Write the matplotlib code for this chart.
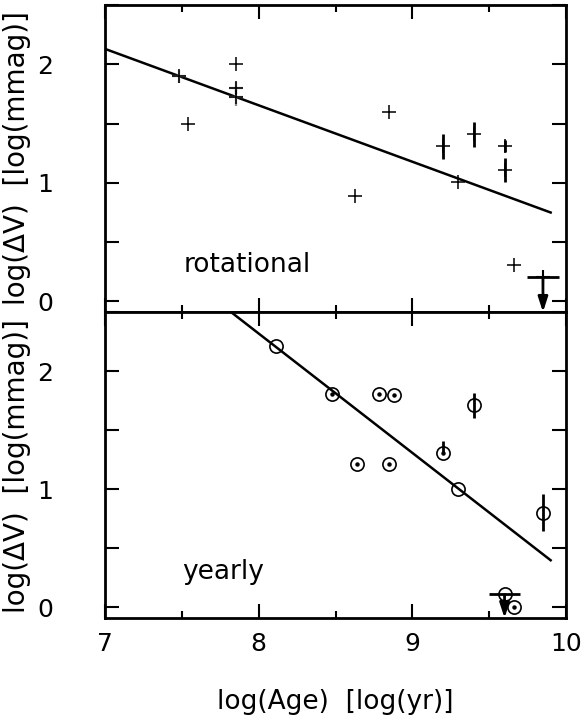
import numpy as np
import matplotlib
matplotlib.use("Agg")
import matplotlib.pyplot as plt
from matplotlib.ticker import MultipleLocator, FuncFormatter

# ---------------- data ----------------
# rotational panel: plain '+' points
rot_x = [7.48, 7.54, 7.85, 7.85, 7.85, 8.85, 8.63, 9.30, 9.66]
rot_y = [1.90, 1.50, 2.00, 1.80, 1.72, 1.60, 0.89, 1.01, 0.305]
# rotational points with vertical error bars
rot_ex = [9.20, 9.40, 9.60, 9.60]
rot_ey = [1.31, 1.41, 1.31, 1.11]
rot_eerr = [0.105, 0.105, 0.05, 0.10]
# rotational grey error crosses
rot_gx = [7.48, 7.85, 7.85]
rot_gy = [1.90, 1.80, 1.72]
rot_gxerr = [0.045, 0.045, 0.045]
rot_gyerr = [0.055, 0.05, 0.07]
# rotational upper limit
rot_ul_x = [9.85]
rot_ul_y = [0.206]
rot_ul_xerr = [0.106]
# rotational fit
rot_fit_slope, rot_fit_icpt = -0.476, 5.462
rot_fit_range = [7.0, 9.9]

# yearly panel
yr_open_x = [8.11, 9.30]
yr_open_y = [2.21, 1.00]
yr_dot_x = [8.48, 8.78, 8.88, 8.64, 8.85, 9.66]
yr_dot_y = [1.805, 1.805, 1.80, 1.21, 1.21, 0.00]
# open circles with error bars
yr_err_x = [9.40, 9.85]
yr_err_y = [1.71, 0.80]
yr_err_e = [0.107, 0.157]
# dotted circle with upper-only error bar
yr_up_x = [9.20]
yr_up_y = [1.305]
yr_up_e = [0.10]
# yearly upper limit
yr_ul_x = [9.60]
yr_ul_y = [0.11]
yr_ul_xerr = [0.10]
# yearly fit
yr_fit_slope, yr_fit_icpt = -1.01, 10.398
yr_fit_range = [7.0, 9.9]

xlim = (7.0, 10.0)
ylim = (-0.09, 2.5)

# ---------------- figure ----------------
fig = plt.figure(figsize=(5.84, 7.27), dpi=100)
ax1 = fig.add_axes([0.1798, 0.5708, 0.7894, 0.4223])
ax2 = fig.add_axes([0.1798, 0.1499, 0.7894, 0.4209])

TICKFS = 18
LABFS = 19

def style(ax, show_xlabels):
    ax.set_xlim(*xlim)
    ax.set_ylim(*ylim)
    ax.xaxis.set_major_locator(MultipleLocator(1))
    ax.xaxis.set_minor_locator(MultipleLocator(0.5))
    ax.yaxis.set_major_locator(MultipleLocator(0.5))
    ax.yaxis.set_major_formatter(FuncFormatter(
        lambda v, p: f"{int(round(v))}" if abs(v - round(v)) < 1e-6 else ""))
    ax.xaxis.set_major_formatter(FuncFormatter(lambda v, p: f"{int(round(v))}"))
    ax.tick_params(which="both", direction="in", top=True, right=True, width=1.5)
    ax.tick_params(which="major", length=10)
    ax.tick_params(which="minor", length=5)
    ax.tick_params(axis="y", labelsize=TICKFS, pad=37)
    ax.tick_params(axis="x", labelsize=TICKFS, pad=10, labelbottom=show_xlabels)
    for s in ax.spines.values():
        s.set_linewidth(2.0)

style(ax1, False)
style(ax2, True)

ARROW = dict(arrowstyle="-|>,head_width=0.18,head_length=0.55", color="k", lw=2.0,
             mutation_scale=16, shrinkA=0, shrinkB=0)

# --- top panel ---
xx = np.array(rot_fit_range)
ax1.plot(xx, rot_fit_icpt + rot_fit_slope * xx, color="k", lw=1.8, zorder=2)
ax1.errorbar(rot_gx, rot_gy, xerr=rot_gxerr, yerr=rot_gyerr, fmt="none",
             ecolor="0.55", elinewidth=1.6, capsize=0, zorder=3)
ax1.plot(rot_x, rot_y, ls="none", marker="+", ms=10, mew=1.1, color="k", zorder=4)
ax1.errorbar(rot_ex, rot_ey, yerr=rot_eerr, fmt="+", ms=10, mew=1.1, color="k",
             ecolor="k", elinewidth=2.0, capsize=0, zorder=4)
ax1.errorbar(rot_ul_x, rot_ul_y, xerr=rot_ul_xerr, fmt="+", ms=10, mew=1.5, color="k",
             ecolor="k", elinewidth=2.0, capsize=0, zorder=4)
for x, y in zip(rot_ul_x, rot_ul_y):
    ax1.annotate("", xy=(x, ylim[0]), xytext=(x, y), arrowprops=ARROW,
                 annotation_clip=False)
ax1.text(7.51, 0.25, "rotational", fontsize=LABFS, ha="left", va="baseline")

# --- bottom panel ---
xx = np.array(yr_fit_range)
ax2.plot(xx, yr_fit_icpt + yr_fit_slope * xx, color="k", lw=1.8, zorder=2)
circ = dict(ls="none", marker="o", ms=9.5, mfc="none", mec="k", mew=1.2, zorder=4)
ax2.plot(yr_open_x, yr_open_y, **circ)
ax2.plot(yr_dot_x, yr_dot_y, **circ)
ax2.plot(yr_dot_x, yr_dot_y, ls="none", marker="o", ms=2.2, color="k", zorder=5)
ax2.errorbar(yr_err_x, yr_err_y, yerr=yr_err_e, fmt="none", ecolor="k",
             elinewidth=2.0, capsize=0, zorder=3)
ax2.plot(yr_err_x, yr_err_y, **circ)
ax2.errorbar(yr_up_x, yr_up_y, yerr=[[0.0] * len(yr_up_e), yr_up_e], fmt="none",
             ecolor="k", elinewidth=2.0, capsize=0, zorder=3)
ax2.plot(yr_up_x, yr_up_y, **circ)
ax2.plot(yr_up_x, yr_up_y, ls="none", marker="o", ms=2.2, color="k", zorder=5)
ax2.errorbar(yr_ul_x, yr_ul_y, xerr=yr_ul_xerr, fmt="none", ecolor="k",
             elinewidth=2.0, capsize=0, zorder=3)
ax2.plot(yr_ul_x, yr_ul_y, **circ)
for x, y in zip(yr_ul_x, yr_ul_y):
    ax2.annotate("", xy=(x, ylim[0]), xytext=(x, y), arrowprops=ARROW,
                 annotation_clip=False)
ax2.text(7.50, 0.24, "yearly", fontsize=LABFS, ha="left", va="baseline")

# labels
fig.text(17 / 584, 1 - 158 / 727, "log(ΔV)  [log(mmag)]", rotation=90,
         ha="center", va="center", fontsize=20)
fig.text(17 / 584, 1 - 466 / 727, "log(ΔV)  [log(mmag)]", rotation=90,
         ha="center", va="center", fontsize=20)
fig.text(335 / 584, 1 - 702 / 727, "log(Age)  [log(yr)]",
         ha="center", va="center", fontsize=LABFS)

fig.savefig("out.png", dpi=100)
